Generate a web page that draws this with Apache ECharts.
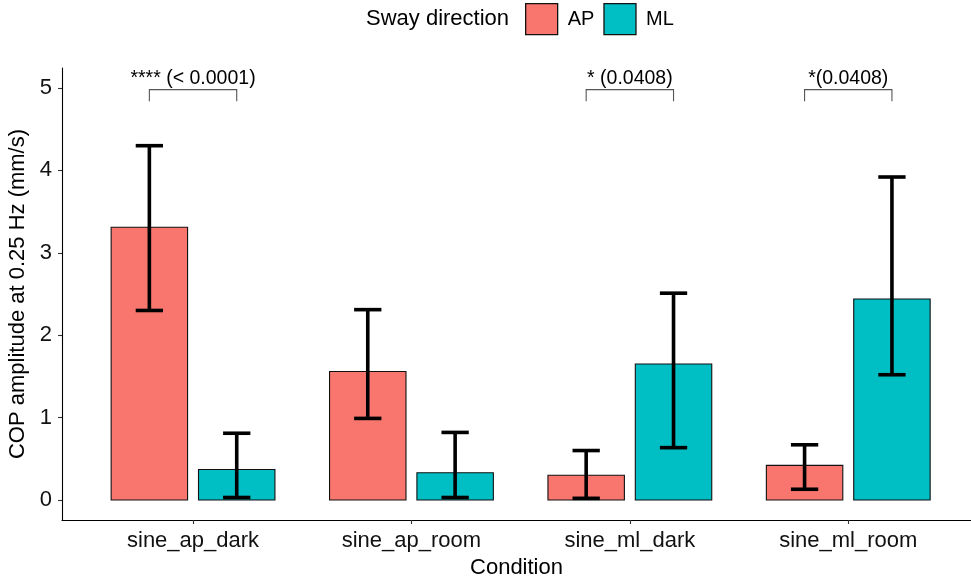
<!DOCTYPE html>
<html><head><meta charset="utf-8">
<script src="https://cdn.jsdelivr.net/npm/echarts@6/dist/echarts.min.js"></script>
<style>html,body{margin:0;padding:0;background:#fff}#c{width:971px;height:581px}</style>
</head><body><div id="c"></div>
<script>
const categories = ['sine_ap_dark', 'sine_ap_room', 'sine_ml_dark', 'sine_ml_room'];
const apMean = [3.31, 1.56, 0.30, 0.42];
const apLow  = [2.30, 0.99, 0.02, 0.13];
const apHigh = [4.30, 2.31, 0.60, 0.67];
const mlMean = [0.37, 0.33, 1.65, 2.44];
const mlLow  = [0.03, 0.03, 0.635, 1.52];
const mlHigh = [0.81, 0.82, 2.51, 3.92];
const sigLabels = ['**** (< 0.0001)', null, '* (0.0408)', '*(0.0408)'];
const sigY = 4.98;
const sigTip = 4.84;
const yTicks = [0, 1, 2, 3, 4, 5];
const xTicks = [1, 2, 3, 4];

const FONT = '"Liberation Sans", Arial, sans-serif';
const OFF = 0.2, BW = 0.35, CAP = 0.0625;

function barSeries(name, means, color, off) {
  return {
    type: 'custom', name: name,
    data: means.map((v, i) => [i + 1, v]),
    itemStyle: { color: color, borderColor: '#000', borderWidth: 1 },
    renderItem: function (params, api) {
      const x = api.value(0) + off, y = api.value(1);
      const p0 = api.coord([x - BW / 2, y]);
      const p1 = api.coord([x + BW / 2, 0]);
      return { type: 'rect', shape: { x: p0[0], y: p0[1], width: p1[0] - p0[0], height: p1[1] - p0[1] },
        style: { fill: color, stroke: '#111', lineWidth: 1.1 } };
    },
    z: 2
  };
}
function errSeries(name, lows, highs, off) {
  return {
    type: 'custom', name: name,
    data: lows.map((v, i) => [i + 1, v, highs[i]]),
    renderItem: function (params, api) {
      const x = api.value(0) + off, lo = api.value(1), hi = api.value(2);
      const a = api.coord([x, lo]), b = api.coord([x, hi]);
      const l1 = api.coord([x - CAP, lo]), r1 = api.coord([x + CAP, lo]);
      const l2 = api.coord([x - CAP, hi]), r2 = api.coord([x + CAP, hi]);
      const st = { stroke: '#000', lineWidth: 3.6 };
      return { type: 'group', children: [
        { type: 'line', shape: { x1: a[0], y1: a[1], x2: b[0], y2: b[1] }, style: st },
        { type: 'line', shape: { x1: l1[0], y1: l1[1], x2: r1[0], y2: r1[1] }, style: st },
        { type: 'line', shape: { x1: l2[0], y1: l2[1], x2: r2[0], y2: r2[1] }, style: st }
      ] };
    },
    z: 3
  };
}
const sigData = [];
sigLabels.forEach((s, i) => { if (s) sigData.push([i + 1, sigY, sigTip, s]); });

const chart = echarts.init(document.getElementById('c'), null, { renderer: 'canvas' });
chart.setOption({
  animation: false,
  backgroundColor: '#fff',
  textStyle: { fontFamily: FONT },
  grid: { left: 62, right: 0, top: 68, bottom: 61, containLabel: false, outerBoundsMode: 'none' },
  graphic: [{ type: 'text', left: 366, top: 8, style: { text: 'Sway direction', font: '22px ' + FONT, fill: '#000' } }],
  legend: {
    data: ['AP', 'ML'], left: 525, top: 3, padding: 0, itemWidth: 32, itemHeight: 31, itemGap: 9,
    icon: 'rect', itemStyle: { borderColor: '#111', borderWidth: 1.3 },
    textStyle: { fontSize: 20, fontFamily: FONT, color: '#000', padding: [0, 0, 0, 5] },
    selectedMode: false
  },
  xAxis: {
    type: 'value', min: 0.4, max: 4.562,
    name: 'Condition', nameLocation: 'middle', nameGap: 37,
    nameTextStyle: { fontSize: 22, color: '#000', fontFamily: FONT },
    axisLine: { show: true, onZero: false, lineStyle: { color: '#000', width: 1.1 } },
    axisTick: { show: true, length: 4, customValues: xTicks, lineStyle: { color: '#333', width: 1.1 } },
    axisLabel: { customValues: xTicks, formatter: v => categories[Math.round(v) - 1] || '', fontSize: 22, color: '#111', margin: 10, fontFamily: FONT },
    splitLine: { show: false }
  },
  yAxis: {
    type: 'value', min: -0.243, max: 5.243,
    name: 'COP amplitude at 0.25 Hz (mm/s)', nameLocation: 'middle', nameGap: 31, nameRotate: 90,
    nameTextStyle: { fontSize: 22, color: '#000', fontFamily: FONT },
    axisLine: { show: true, onZero: false, lineStyle: { color: '#000', width: 1.1 } },
    axisTick: { show: true, length: 4, customValues: yTicks, lineStyle: { color: '#333', width: 1.1 } },
    axisLabel: { customValues: yTicks, fontSize: 22, color: '#111', margin: 10, fontFamily: FONT },
    splitLine: { show: false }
  },
  series: [
    barSeries('AP', apMean, '#F8766D', -OFF),
    barSeries('ML', mlMean, '#00BFC4', OFF),
    errSeries('apErr', apLow, apHigh, -OFF),
    errSeries('mlErr', mlLow, mlHigh, OFF),
    {
      type: 'custom', name: 'sig', data: sigData,
      renderItem: function (params, api) {
        const x = api.value(0), y = api.value(1), t = api.value(2);
        const lt = api.coord([x - OFF, t]), l = api.coord([x - OFF, y]);
        const r = api.coord([x + OFF, y]), rt = api.coord([x + OFF, t]);
        const c = api.coord([x, y]);
        return { type: 'group', children: [
          { type: 'polyline', shape: { points: [lt, l, r, rt] }, style: { stroke: '#555', lineWidth: 1.1, fill: null } },
          { type: 'text', x: c[0], y: c[1] - 1, style: { text: sigLabels[x - 1], font: '19.5px ' + FONT, fill: '#000', align: 'center', verticalAlign: 'bottom' } }
        ] };
      },
      z: 4
    }
  ]
});
</script></body></html>
